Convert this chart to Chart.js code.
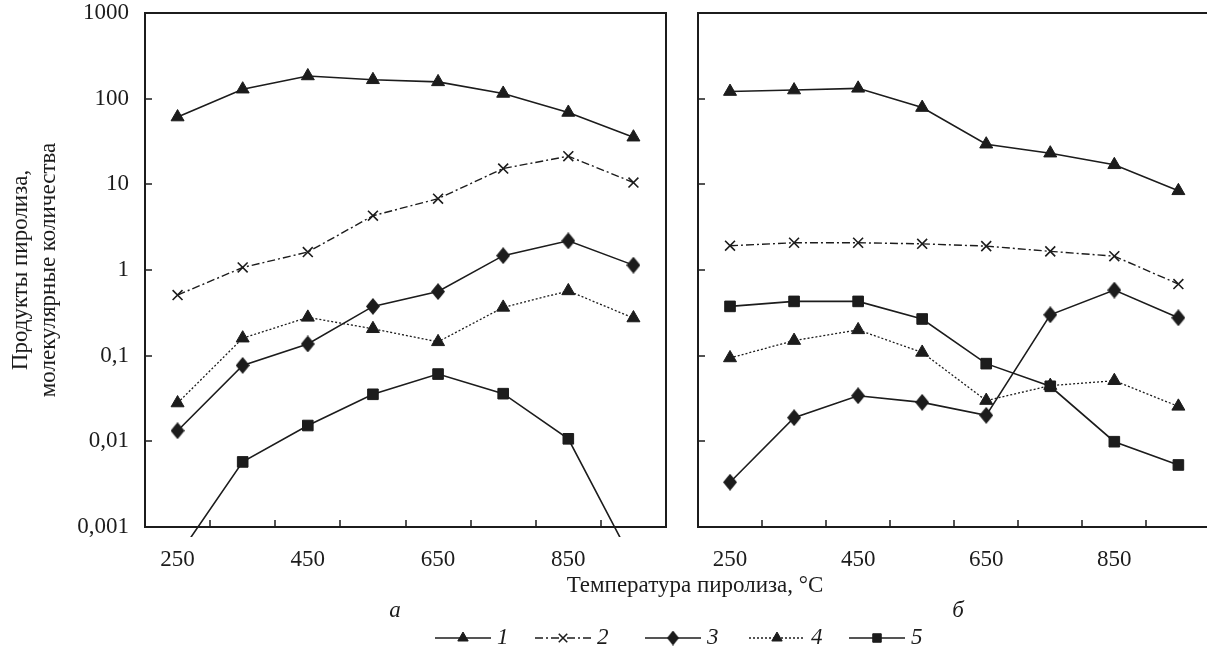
<!DOCTYPE html>
<html lang="ru">
<head>
  <meta charset="UTF-8">
  <title>Продукты пиролиза</title>
  <script src="https://cdn.jsdelivr.net/npm/chart.js"></script>
  <style>
    body { margin: 0; padding: 0; background: white; }
    .wrap { position: relative; width: 1207px; height: 655px; overflow: hidden; background: white; }
    .wrap canvas { position: absolute; left: 0; top: 0; }
  </style>
</head>
<body>
  <div class="wrap">
    <canvas id="chartA" width="1207" height="655"></canvas>
    <canvas id="chartB" width="1220" height="655"></canvas>
  </div>

  <script>
    // data
    const temps = ['250', '350', '450', '550', '650', '750', '850', '950'];
    const yTicks = [0.001, 0.01, 0.1, 1, 10, 100, 1000];
    const yLabels = ['0,001', '0,01', '0,1', '1', '10', '100', '1000'];

    // panel а
    const a1 = [61, 129, 184, 166, 157, 115, 69, 35.5];
    const a2 = [0.51, 1.07, 1.62, 4.3, 6.8, 15.3, 21.3, 10.5];
    const a3 = [0.0133, 0.077, 0.137, 0.376, 0.56, 1.47, 2.19, 1.14];
    const a4 = [0.028, 0.16, 0.28, 0.206, 0.145, 0.366, 0.57, 0.275];
    const a5 = [0.00045, 0.00575, 0.0153, 0.0354, 0.061, 0.036, 0.0107, 0.00038];

    // panel б
    const b1 = [121, 126, 132, 78.7, 29.4, 23.1, 16.9, 8.4];
    const b2 = [1.92, 2.08, 2.08, 2.02, 1.90, 1.65, 1.45, 0.685];
    const b3 = [0.00333, 0.0189, 0.0341, 0.0285, 0.0201, 0.30, 0.583, 0.277];
    const b4 = [0.094, 0.15, 0.20, 0.109, 0.0299, 0.0447, 0.051, 0.0256];
    const b5 = [0.376, 0.43, 0.43, 0.268, 0.0807, 0.0439, 0.0099, 0.0053];

    const ink = '#1c1c1c';
    const serif = "'Liberation Serif', 'DejaVu Serif', serif";

    // tall diamond marker
    function diamond(w, h) {
      const c = document.createElement('canvas');
      c.width = w; c.height = h;
      const g = c.getContext('2d');
      g.fillStyle = ink;
      g.beginPath();
      g.moveTo(w / 2, 0); g.lineTo(w, h / 2); g.lineTo(w / 2, h); g.lineTo(0, h / 2);
      g.closePath(); g.fill();
      return c;
    }
    const diamondImg = diamond(14, 17);
    const diamondSmall = diamond(12, 15);

    function makeSets(s1, s2, s3, s4, s5) {
      const base = { borderColor: ink, backgroundColor: ink, pointBorderColor: ink, pointBackgroundColor: ink, tension: 0 };
      return [
        { ...base, label: '1', data: s1, borderWidth: 1.6, pointStyle: 'triangle', pointRadius: 7.5, pointBorderWidth: 1 },
        { ...base, label: '2', data: s2, borderWidth: 1.4, borderDash: [8, 3, 2, 3], pointStyle: 'crossRot', pointRadius: 7, pointBorderWidth: 1.6 },
        { ...base, label: '3', data: s3, borderWidth: 1.6, pointStyle: diamondImg, pointRadius: 8 },
        { ...base, label: '4', data: s4, borderWidth: 1.3, borderDash: [2, 2], pointStyle: 'triangle', pointRadius: 7.5, pointBorderWidth: 1 },
        { ...base, label: '5', data: s5, borderWidth: 1.6, pointStyle: 'rect', pointRadius: 7.5, pointBorderWidth: 1,
          clip: { left: 0, top: 0, right: 0, bottom: 10 } }
      ];
    }

    // box, inward tick marks, free texts and legend
    const framePlugin = {
      id: 'frame',
      afterDraw(chart, args, opts) {
        const ctx = chart.ctx;
        const { left, right, top, bottom } = chart.chartArea;
        const xs = chart.scales.x, ys = chart.scales.y;
        ctx.save();
        ctx.strokeStyle = ink;
        ctx.lineWidth = 2;
        ctx.setLineDash([]);
        ctx.strokeRect(left, top, right - left, bottom - top);
        ctx.lineWidth = 1.5;
        ctx.beginPath();
        for (let i = 0; i < temps.length - 1; i++) {
          const px = Math.round((xs.getPixelForValue(i) + xs.getPixelForValue(i + 1)) / 2);
          ctx.moveTo(px, bottom); ctx.lineTo(px, bottom - 7);
        }
        yTicks.slice(1, -1).forEach(v => {
          const py = Math.round(ys.getPixelForValue(v));
          ctx.moveTo(left, py); ctx.lineTo(left + 7, py);
        });
        ctx.stroke();

        ctx.fillStyle = ink;
        ctx.textBaseline = 'middle';
        ctx.textAlign = 'center';
        (opts.texts || []).forEach(t => {
          ctx.font = (t.italic ? 'italic ' : '') + '23px ' + serif;
          ctx.fillText(t.text, t.x, t.y);
        });

        if (opts.legend) {
          const ly = 638;
          const centers = [463, 563, 673, 777, 877];
          chart.data.datasets.forEach((ds, i) => {
            const cx = centers[i];
            ctx.lineWidth = ds.borderWidth;
            ctx.setLineDash(ds.borderDash || []);
            ctx.beginPath();
            ctx.moveTo(cx - 28, ly); ctx.lineTo(cx + 28, ly);
            ctx.stroke();
            ctx.setLineDash([]);
            ctx.lineWidth = ds.pointBorderWidth || 1;
            const style = ds.pointStyle === diamondImg ? diamondSmall : ds.pointStyle;
            Chart.helpers.drawPoint(ctx, { pointStyle: style, radius: 6, rotation: 0, borderWidth: ds.pointBorderWidth || 1 }, cx, ly);
            ctx.font = 'italic 23px ' + serif;
            ctx.textAlign = 'left';
            ctx.fillText(ds.label, cx + 34, ly);
          });
        }
        ctx.restore();
      }
    };

    function makeOptions(panel) {
      const isA = panel === 'a';
      return {
        responsive: false,
        animation: false,
        layout: { padding: { left: 0, top: 13, right: isA ? 541 : 1, bottom: 0 } },
        plugins: {
          legend: { display: false },
          tooltip: { enabled: false },
          frame: isA ? {
            texts: [
              { text: 'Температура пиролиза, °C', x: 695, y: 586 },
              { text: 'а', x: 395, y: 611, italic: true }
            ],
            legend: true
          } : {
            texts: [{ text: 'б', x: 958, y: 611, italic: true }],
            legend: false
          }
        },
        scales: {
          x: {
            type: 'category',
            offset: true,
            grid: { display: false },
            border: { display: false },
            ticks: {
              autoSkip: false,
              maxRotation: 0,
              padding: 11,
              color: ink,
              font: { family: serif, size: 23 },
              callback: function (v, i) { return i % 2 === 0 ? this.getLabelForValue(v) : ''; }
            },
            afterFit: s => { s.height = 128; s.paddingLeft = 0; s.paddingRight = 0; }
          },
          y: {
            type: 'logarithmic',
            min: 0.001,
            max: 1000,
            grid: { display: false },
            border: { display: false },
            afterBuildTicks: s => { s.ticks = yTicks.map(v => ({ value: v })); },
            ticks: {
              display: isA,
              padding: 8,
              color: ink,
              font: { family: serif, size: 23 },
              callback: v => yLabels[yTicks.indexOf(v)]
            },
            title: {
              display: isA,
              text: ['Продукты пиролиза,', 'молекулярные количества'],
              color: ink,
              font: { family: serif, size: 23, lineHeight: 1.22 },
              padding: { top: 7, bottom: 0 }
            },
            afterFit: s => { s.width = isA ? 145 : 698; s.paddingTop = 0; s.paddingBottom = 0; }
          }
        }
      };
    }

    const chartA = new Chart(document.getElementById('chartA').getContext('2d'), {
      type: 'line',
      data: { labels: temps, datasets: makeSets(a1, a2, a3, a4, a5) },
      options: makeOptions('a'),
      plugins: [framePlugin]
    });

    const chartB = new Chart(document.getElementById('chartB').getContext('2d'), {
      type: 'line',
      data: { labels: temps, datasets: makeSets(b1, b2, b3, b4, b5) },
      options: makeOptions('b'),
      plugins: [framePlugin]
    });
  </script>
</body>
</html>
